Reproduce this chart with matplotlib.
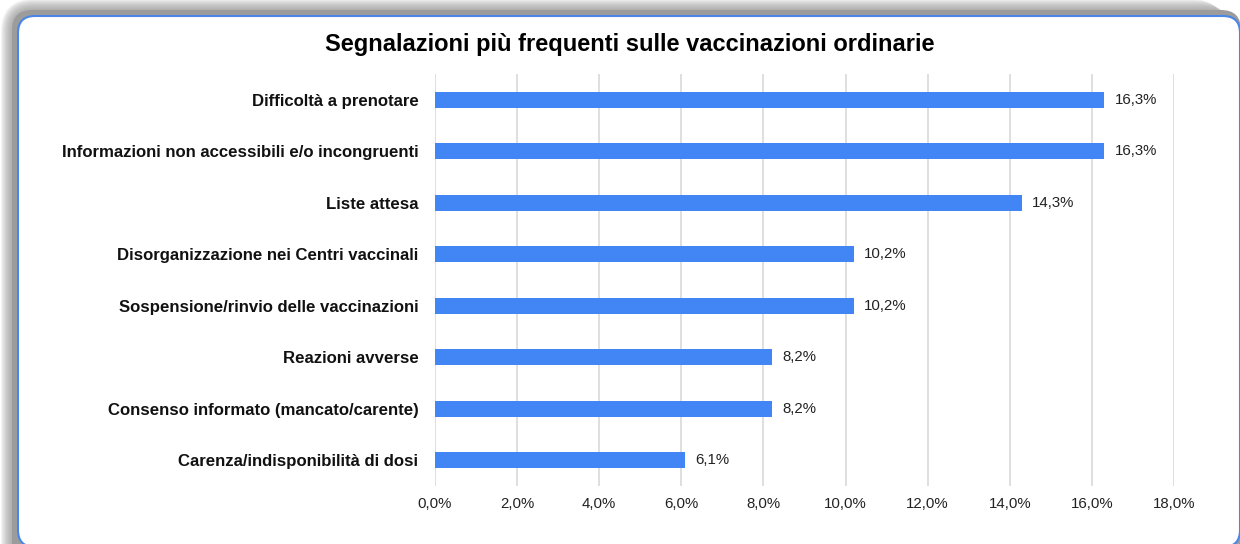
import matplotlib
matplotlib.use("Agg")
import matplotlib.pyplot as plt
from matplotlib.patches import FancyBboxPatch
from matplotlib.ticker import FuncFormatter, MultipleLocator

plt.rcParams['font.family'] = ['Liberation Sans', 'DejaVu Sans']

categories = [
    "Difficoltà a prenotare",
    "Informazioni non accessibili e/o incongruenti",
    "Liste attesa",
    "Disorganizzazione nei Centri vaccinali",
    "Sospensione/rinvio delle vaccinazioni",
    "Reazioni avverse",
    "Consenso informato (mancato/carente)",
    "Carenza/indisponibilità di dosi",
]
values = [16.3, 16.3, 14.3, 10.2, 10.2, 8.2, 8.2, 6.1]
value_labels = ["16,3%", "16,3%", "14,3%", "10,2%", "10,2%", "8,2%", "8,2%", "6,1%"]
title = "Segnalazioni più frequenti sulle vaccinazioni ordinarie"

W, H = 1240, 544
fig = plt.figure(figsize=(W / 100, H / 100), dpi=100)

# background frame in pixel coordinates
bg = fig.add_axes([0, 0, 1, 1], zorder=0)
bg.set_xlim(0, W)
bg.set_ylim(H, 0)
bg.axis('off')
# shadow: solid gray band near frame, fading outwards (offset up-left)
for i in range(17, 6, -1):
    sh = FancyBboxPatch((18 - i, 16 - i), 1223, 620,
                        boxstyle="round,pad=0,rounding_size=%d" % (16 + i),
                        facecolor=(0.6, 0.6, 0.6), edgecolor='none', alpha=0.11)
    bg.add_patch(sh)
sh = FancyBboxPatch((12, 10), 1229, 620,
                    boxstyle="round,pad=0,rounding_size=20",
                    facecolor='#9c9c9c', edgecolor='none')
bg.add_patch(sh)
frame = FancyBboxPatch((18, 16), 1222, 531,
                       boxstyle="round,pad=0,rounding_size=17",
                       facecolor='white', edgecolor='#4a86e8', linewidth=1.5)
bg.add_patch(frame)

ax = fig.add_axes([435 / W, 1 - 485.7 / H, (1174 - 435) / W, (485.7 - 74.3) / H], zorder=1)
ax.patch.set_alpha(0)
y = list(range(len(categories)))
ax.barh(y, values, height=0.31, color='#4285f4', zorder=2)
ax.set_ylim(len(categories) - 0.5, -0.5)
ax.set_xlim(0, 18)
ax.xaxis.set_major_locator(MultipleLocator(2))
ax.xaxis.set_major_formatter(FuncFormatter(lambda v, p: f"{v:.1f}%".replace('.', ',')))
ax.grid(axis='x', color='#d9d9d9', linewidth=1.2, zorder=0)
ax.set_axisbelow(True)
for s in ax.spines.values():
    s.set_visible(False)
ax.set_yticks(y)
ax.set_yticklabels(categories, fontsize=12.1, fontweight='bold', color='#111111')
ax.tick_params(axis='y', length=0, pad=12)
ax.tick_params(axis='x', length=0, pad=8, labelsize=10.8, labelcolor='#222222')
for yi, v, lab in zip(y, values, value_labels):
    ax.text(v + 0.25, yi, lab, va='center', ha='left', fontsize=10.8, color='#222222')

fig.text(630 / W, 1 - 45 / H, title, ha='center', va='center',
         fontsize=17, fontweight='bold', color='#000000')

fig.savefig('out.png', dpi=100)
